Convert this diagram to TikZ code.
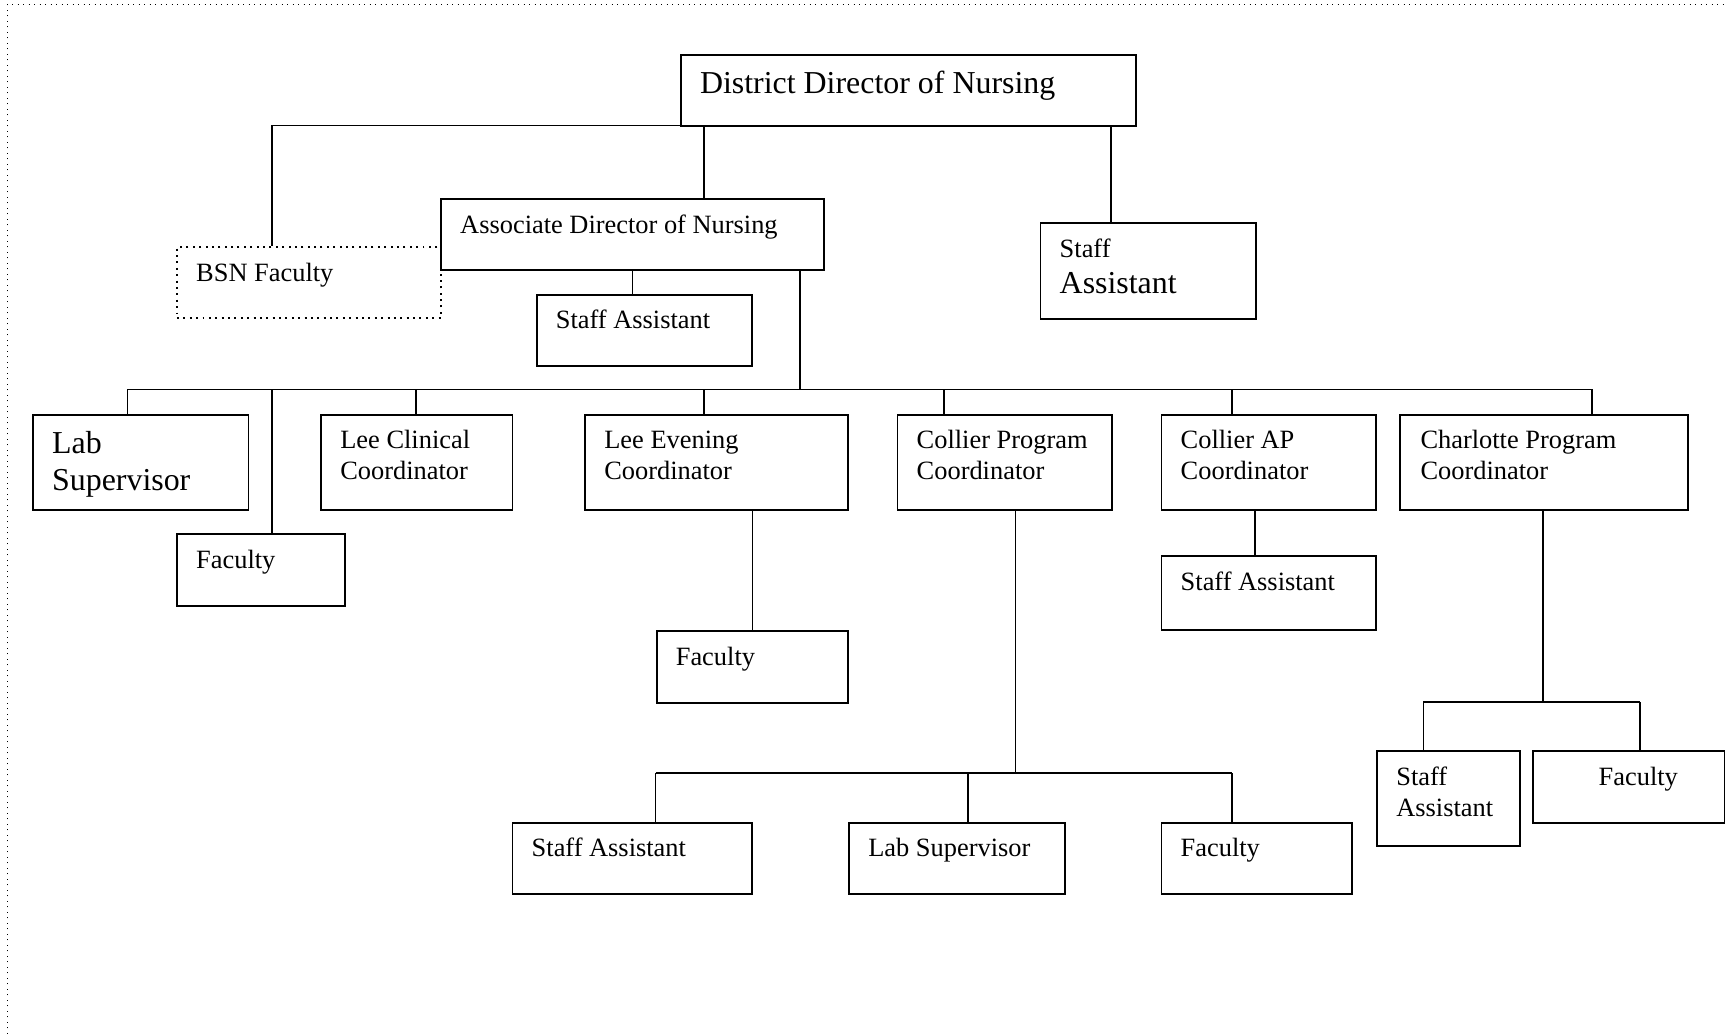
\documentclass[tikz,border=0pt]{standalone}
\usepackage{fontspec}
\setmainfont{Liberation Serif}
\usetikzlibrary{positioning}

\tikzset{
  unit/.style={draw, line width=0.9pt, anchor=north west, inner sep=0pt},
  txt/.style={anchor=base west, inner sep=0pt, align=left, font=\fontsize{12}{14}\selectfont},
  bigtxt/.style={txt, font=\fontsize{14.5}{16.8}\selectfont},
  link/.style={line width=0.8pt},
  thinlink/.style={line width=0.45pt}
}

\begin{document}
\begin{tikzpicture}[x=0.5pt,y=-0.5pt]
\useasboundingbox (0,0) rectangle (1568.2,940.9);
\draw [dotted, line width=0.5pt] (7,950) -- (7,4) -- (1575,4);

% top level (base of a text node = its last line)
\node[unit, minimum width=207pt, minimum height=32.5pt] (ddn) at (618,49) {};
\node[bigtxt] (ddn-t) at ([shift={(18,36)}]ddn.north west) {District Director of Nursing};
\node[unit, minimum width=174pt, minimum height=32.5pt] (adn) at (400,180) {};
\node[txt] (adn-t) at ([shift={(18,32)}]adn.north west) {Associate Director of Nursing};
\node[unit, dotted, minimum width=120pt, minimum height=32pt] (bsn) at (160,224) {};
\node[txt] (bsn-t) at ([shift={(18,32)}]bsn.north west) {BSN Faculty};
\node[unit, minimum width=98pt, minimum height=32.5pt] (adnsa) at (487,267) {};
\node[txt] (adnsa-t) at ([shift={(18,32)}]adnsa.north west) {Staff Assistant};
\node[unit, minimum width=98pt, minimum height=43.5pt] (ddnsa) at (945,202) {};
\node[txt] (ddnsa-t) at ([shift={(18,64.4)}]ddnsa.north west) {Staff\\[2.2pt]{\fontsize{14.5}{16.8}\selectfont Assistant}};

% second level
\node[unit, minimum width=98pt, minimum height=43.5pt] (lab) at (29,376) {};
\node[bigtxt] (lab-t) at ([shift={(18,69.6)}]lab.north west) {Lab\\Supervisor};
\node[unit, minimum width=76.5pt, minimum height=32.5pt] (labfac) at (160,485) {};
\node[txt] (labfac-t) at ([shift={(18,32)}]labfac.north west) {Faculty};
\node[unit, minimum width=87pt, minimum height=43.5pt] (leec) at (291,376) {};
\node[txt] (leec-t) at ([shift={(18,60)}]leec.north west) {Lee Clinical\\Coordinator};
\node[unit, minimum width=119.5pt, minimum height=43.5pt] (leee) at (531,376) {};
\node[txt] (leee-t) at ([shift={(18,60)}]leee.north west) {Lee Evening\\Coordinator};
\node[unit, minimum width=97.5pt, minimum height=43.5pt] (colp) at (815,376) {};
\node[txt] (colp-t) at ([shift={(18,60)}]colp.north west) {Collier Program\\Coordinator};
\node[unit, minimum width=97.5pt, minimum height=43.5pt] (colap) at (1055,376) {};
\node[txt] (colap-t) at ([shift={(18,60)}]colap.north west) {Collier AP\\Coordinator};
\node[unit, minimum width=131pt, minimum height=43.5pt] (char) at (1272,376) {};
\node[txt] (char-t) at ([shift={(19,60)}]char.north west) {Charlotte Program\\Coordinator};

% third level
\node[unit, minimum width=87pt, minimum height=32.5pt] (leefac) at (596,573) {};
\node[txt] (leefac-t) at ([shift={(18,32)}]leefac.north west) {Faculty};
\node[unit, minimum width=97.5pt, minimum height=33.5pt] (colapsa) at (1055,505) {};
\node[txt] (colapsa-t) at ([shift={(18,32)}]colapsa.north west) {Staff Assistant};
\node[unit, minimum width=109pt, minimum height=32.5pt] (colsa) at (465,747) {};
\node[txt] (colsa-t) at ([shift={(18,32)}]colsa.north west) {Staff Assistant};
\node[unit, minimum width=98pt, minimum height=32.5pt] (collab) at (771,747) {};
\node[txt] (collab-t) at ([shift={(18,32)}]collab.north west) {Lab Supervisor};
\node[unit, minimum width=86.5pt, minimum height=32.5pt] (colfac) at (1055,747) {};
\node[txt] (colfac-t) at ([shift={(18,32)}]colfac.north west) {Faculty};
\node[unit, minimum width=65pt, minimum height=43pt] (charsa) at (1251,682) {};
\node[txt] (charsa-t) at ([shift={(18,60)}]charsa.north west) {Staff\\Assistant};
\node[unit, minimum width=87pt, minimum height=32.5pt] (charfac) at (1393,682) {};
\node[txt] (charfac-t) at ([shift={(60,32)}]charfac.north west) {Faculty};

% lines from the top
\coordinate (tbsn) at (247,114);
\coordinate (tadn) at (640,114);
\coordinate (tsa) at (1010,114);
\draw[link] (tbsn -| ddn.west) -- (tbsn) -- (tbsn |- bsn.north);
\draw[link] (tadn) -- (tadn |- adn.north);
\draw[link] (tsa) -- (tsa |- ddnsa.north);
\draw[link] (adn.south) -- (adn.south |- adnsa.north);

% main bus
\coordinate (dadn) at (727,354);
\draw[link] (dadn |- adn.south) -- (dadn);
\foreach \n/\x in {lab/116,labfac/247,leec/378,leee/640,colp/858,colap/1120,char/1447}{
  \coordinate (d\n) at (\x,354);
  \draw[link] (d\n) -- (d\n |- \n.north);
}
\draw[link] (dlab) -- (dchar);

% lower branches
\draw[thinlink] (leefac.north |- leee.south) -- (leefac.north);
\coordinate (jcolap) at (1141,505);
\draw[link] (jcolap |- colap.south) -- (jcolap);
\coordinate (jcol) at (923,703);
\draw[thinlink] (jcol |- colp.south) -- (jcol);
\foreach \n/\x in {colsa/596,collab/880,colfac/1120}{
  \coordinate (j\n) at (\x,703);
  \draw[link] (j\n) -- (j\n |- \n.north);
}
\draw[link] (jcolsa) -- (jcolfac);
\coordinate (jchar) at (1403,638);
\draw[link] (jchar |- char.south) -- (jchar);
\foreach \n/\x in {charsa/1294,charfac/1491}{
  \coordinate (j\n) at (\x,638);
  \draw[link] (j\n) -- (j\n |- \n.north);
}
\draw[link] (jcharsa) -- (jcharfac);

\end{tikzpicture}
\end{document}
